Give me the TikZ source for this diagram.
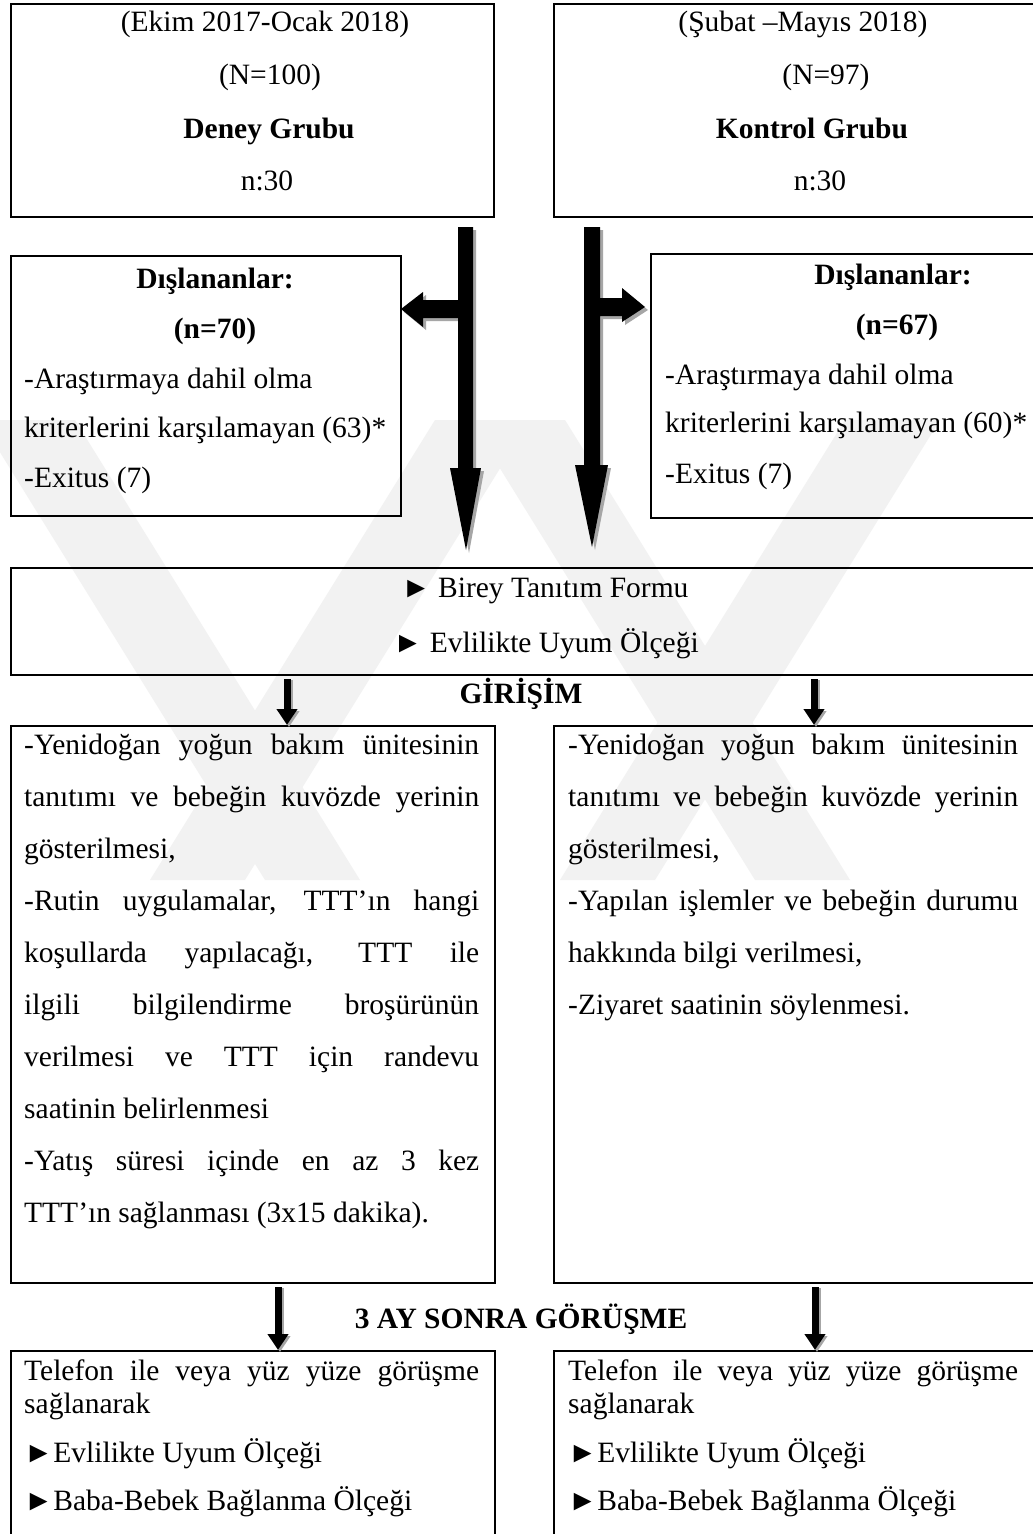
\documentclass[tikz,border=0pt]{standalone}
\usepackage{fontspec}
\setmainfont{Liberation Serif}
\usetikzlibrary{arrows.meta,calc}
\newcommand\fs{\fontsize{29.5}{36}\selectfont}
\newcommand\jline[2]{\makebox[#1][s]{#2}}
\tikzset{
  box/.style={draw, line width=2pt, inner sep=0pt, anchor=north west},
  txt/.style={inner sep=0pt, anchor=base west, font=\fs},
  ctxt/.style={inner sep=0pt, anchor=base, font=\fs},
  blockarrow/.style={fill=black},
  blockshadow/.style={fill=black!35},
  smallarrow/.style={line width=7pt, -{Triangle[width=20pt,length=16pt]}},
  smallshadow/.style={line width=7pt, draw=black!35, -{Triangle[width=20pt,length=16pt]}},
  wmark/.style={fill=black!5},
}
\begin{document}
\begin{tikzpicture}[x=1pt,y=-1pt]
\useasboundingbox (0,0) rectangle (1033,1534);
\clip (0,0) rectangle (1033,1534);
\fill[white] (0,0) rectangle (1033,1534);

% ---------- faint watermark bands
\fill[wmark] (-20,420) -- (75,420) -- (360,880) -- (265,880) -- cycle;
\fill[wmark] (150,880) -- (245,880) -- (530,420) -- (435,420) -- cycle;
\fill[wmark] (470,420) -- (565,420) -- (850,880) -- (755,880) -- cycle;
\fill[wmark] (560,880) -- (655,880) -- (940,420) -- (845,420) -- cycle;

% ---------- top boxes
\node[box, minimum width=483pt, minimum height=213pt] (g1) at (10,3) {};
\node[box, minimum width=500pt, minimum height=213pt] (g2) at (553,3) {};
\node[ctxt] (g1a) at (265,31) {(Ekim 2017-Ocak 2018)};
\node[ctxt] (g1b) at (270,84) {(N=100)};
\node[ctxt] (g1c) at (269,138) {\textbf{Deney Grubu}};
\node[ctxt] (g1d) at (267,190) {n:30};
\node[ctxt] (g2a) at (803,31) {(Şubat –Mayıs 2018)};
\node[ctxt] (g2b) at (826,84) {(N=97)};
\node[ctxt] (g2c) at (812,138) {\textbf{Kontrol Grubu}};
\node[ctxt] (g2d) at (820,190) {n:30};

% ---------- exclusion boxes
\node[box, minimum width=390pt, minimum height=260pt] (e1) at (10,255) {};
\node[box, minimum width=400pt, minimum height=264pt] (e2) at (650,253) {};
\node[ctxt] (e1a) at (215,288) {\textbf{Dışlananlar:}};
\node[ctxt] (e1b) at (215,338) {\textbf{(n=70)}};
\node[txt] (e1c) at (24,388) {-Araştırmaya dahil olma};
\node[txt] (e1d) at (24,437) {kriterlerini karşılamayan (63)*};
\node[txt] (e1e) at (24,487) {-Exitus (7)};
\node[ctxt] (e2a) at (893,284) {\textbf{Dışlananlar:}};
\node[ctxt] (e2b) at (897,334) {\textbf{(n=67)}};
\node[txt] (e2c) at (665,384) {-Araştırmaya dahil olma};
\node[txt] (e2d) at (665,432) {kriterlerini karşılamayan (60)*};
\node[txt] (e2e) at (665,483) {-Exitus (7)};

% ---------- big block arrows with shadows
\begin{scope}[shift={(3,3)}]
\path[blockshadow] (458,227) -- (473,227) -- (473,468) -- (481,468) -- (466,550) -- (450,468) -- (458,468)
  -- (458,318) -- (423,318) -- (423,327) -- (401,309) -- (423,292) -- (423,300) -- (458,300) -- cycle;
\path[blockshadow] (584,227) -- (600,227) -- (600,298) -- (622,298) -- (622,288) -- (645,307) -- (622,322)
  -- (622,316) -- (600,316) -- (600,465) -- (608,465) -- (592,547) -- (575,465) -- (584,465) -- cycle;
\end{scope}
\path[blockarrow] (458,227) -- (473,227) -- (473,468) -- (481,468) -- (466,550) -- (450,468) -- (458,468)
  -- (458,318) -- (423,318) -- (423,327) -- (401,309) -- (423,292) -- (423,300) -- (458,300) -- cycle;
\path[blockarrow] (584,227) -- (600,227) -- (600,298) -- (622,298) -- (622,288) -- (645,307) -- (622,322)
  -- (622,316) -- (600,316) -- (600,465) -- (608,465) -- (592,547) -- (575,465) -- (584,465) -- cycle;

% ---------- middle box
\node[box, minimum width=1040pt, minimum height=107pt] (m) at (10,567) {};
\node[ctxt] (ma) at (545,597) {► Birey Tanıtım Formu};
\node[ctxt] (mb) at (546,652) {► Evlilikte Uyum Ölçeği};
\node[ctxt] (gir) at (521,703) {\textbf{GİRİŞİM}};

% ---------- intervention boxes
\node[box, minimum width=484pt, minimum height=557pt] (i1) at (10,725) {};
\node[box, minimum width=500pt, minimum height=557pt] (i2) at (553,725) {};
\node[txt] (i1a) at (24,754)  {\jline{455pt}{-Yenidoğan yoğun bakım ünitesinin}};
\node[txt] (i1b) at (24,806)  {\jline{455pt}{tanıtımı ve bebeğin kuvözde yerinin}};
\node[txt] (i1c) at (24,858)  {gösterilmesi,};
\node[txt] (i1d) at (24,910)  {\jline{455pt}{-Rutin uygulamalar, TTT’ın hangi}};
\node[txt] (i1e) at (24,962)  {\jline{455pt}{koşullarda yapılacağı, TTT ile}};
\node[txt] (i1f) at (24,1014) {\jline{455pt}{ilgili bilgilendirme broşürünün}};
\node[txt] (i1g) at (24,1066) {\jline{455pt}{verilmesi ve TTT için randevu}};
\node[txt] (i1h) at (24,1118) {saatinin belirlenmesi};
\node[txt] (i1i) at (24,1170) {\jline{455pt}{-Yatış süresi içinde en az 3 kez}};
\node[txt] (i1j) at (24,1222) {TTT’ın sağlanması (3x15 dakika).};
\node[txt] (i2a) at (568,754)  {\jline{450pt}{-Yenidoğan yoğun bakım ünitesinin}};
\node[txt] (i2b) at (568,806)  {\jline{450pt}{tanıtımı ve bebeğin kuvözde yerinin}};
\node[txt] (i2c) at (568,858)  {gösterilmesi,};
\node[txt] (i2d) at (568,910)  {\jline{450pt}{-Yapılan işlemler ve bebeğin durumu}};
\node[txt] (i2e) at (568,962)  {hakkında bilgi verilmesi,};
\node[txt] (i2f) at (568,1014) {-Ziyaret saatinin söylenmesi.};

\node[ctxt] (ay) at (521,1328) {\textbf{3 AY SONRA GÖRÜŞME}};

% ---------- bottom boxes
\node[box, minimum width=484pt, minimum height=200pt] (b1) at (10,1350) {};
\node[box, minimum width=500pt, minimum height=200pt] (b2) at (553,1350) {};
\node[txt] (b1a) at (24,1380) {\jline{455pt}{Telefon ile veya yüz yüze görüşme}};
\node[txt] (b1b) at (24,1413) {sağlanarak};
\node[txt] (b1c) at (24,1462) {►Evlilikte Uyum Ölçeği};
\node[txt] (b1d) at (24,1510) {►Baba-Bebek Bağlanma Ölçeği};
\node[txt] (b2a) at (568,1380) {\jline{450pt}{Telefon ile veya yüz yüze görüşme}};
\node[txt] (b2b) at (568,1413) {sağlanarak};
\node[txt] (b2c) at (568,1462) {►Evlilikte Uyum Ölçeği};
\node[txt] (b2d) at (568,1510) {►Baba-Bebek Bağlanma Ölçeği};

% ---------- small arrows
\coordinate (xl1) at (287,0);
\coordinate (xr1) at (814,0);
\coordinate (xl2) at (278,0);
\coordinate (xr2) at (815,0);
\foreach \c/\a/\b in {xl1/m/i1, xr1/m/i2, xl2/i1/b1, xr2/i2/b2}{
  \draw[smallshadow] ($(\a.south -| \c)+(2,4)$) -- ($(\b.north -| \c)+(2,2)$);
  \draw[smallarrow] ($(\a.south -| \c)+(0,3)$) -- (\b.north -| \c);
}
\end{tikzpicture}
\end{document}
